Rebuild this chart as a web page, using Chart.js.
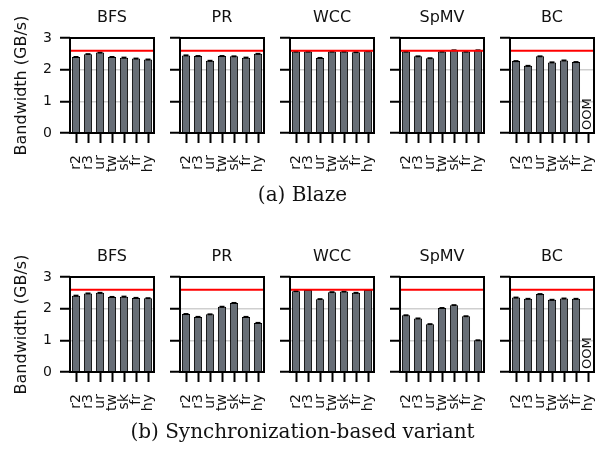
<!DOCTYPE html>
<html><head><meta charset="utf-8">
<script src="https://cdn.jsdelivr.net/npm/chart.js@4.4.0/dist/chart.umd.min.js"></script>
<style>
html,body{margin:0;padding:0;background:#fff;width:597px;height:449px;overflow:hidden;position:relative;}
canvas{position:absolute;}
.cap{position:absolute;left:4px;width:597px;text-align:center;font-family:'DejaVu Serif',serif;font-size:20px;line-height:24px;color:#111;white-space:nowrap;}
</style></head><body>
<canvas id="a0" width="208" height="177"></canvas>
<canvas id="a1" width="208" height="177"></canvas>
<canvas id="a2" width="208" height="177"></canvas>
<canvas id="a3" width="208" height="177"></canvas>
<canvas id="a4" width="208" height="177"></canvas>
<canvas id="b0" width="208" height="177"></canvas>
<canvas id="b1" width="208" height="177"></canvas>
<canvas id="b2" width="208" height="177"></canvas>
<canvas id="b3" width="208" height="177"></canvas>
<canvas id="b4" width="208" height="177"></canvas>
<div class="cap" style="top:182px;">(a) Blaze</div>
<div class="cap" style="top:419px;">(b) Synchronization-based variant</div>
<script>
const categories = ['r2','r3','ur','tw','sk','fr','hy'];
const workloads = ['BFS','PR','WCC','SpMV','BC'];
const yTickValues = [0,1,2,3];
const peakBandwidth = 2.6;

// (a) Blaze
const blazeBFS  = [2.40, 2.49, 2.54, 2.40, 2.38, 2.35, 2.32];
const blazePR   = [2.45, 2.43, 2.28, 2.43, 2.42, 2.38, 2.50];
const blazeWCC  = [2.57, 2.57, 2.37, 2.57, 2.57, 2.55, 2.58];
const blazeSpMV = [2.57, 2.42, 2.36, 2.57, 2.61, 2.57, 2.61];
const blazeBC   = [2.27, 2.12, 2.42, 2.23, 2.29, 2.24, null];

// (b) Synchronization-based variant
const syncBFS  = [2.41, 2.48, 2.50, 2.37, 2.38, 2.34, 2.33];
const syncPR   = [1.83, 1.74, 1.82, 2.06, 2.18, 1.74, 1.55];
const syncWCC  = [2.55, 2.59, 2.30, 2.52, 2.54, 2.50, 2.59];
const syncSpMV = [1.79, 1.69, 1.51, 2.02, 2.11, 1.76, 1.00];
const syncBC   = [2.35, 2.31, 2.46, 2.28, 2.32, 2.31, null];

const rows = [
  {prefix:'a', top:6,   series:[blazeBFS, blazePR, blazeWCC, blazeSpMV, blazeBC]},
  {prefix:'b', top:245, series:[syncBFS, syncPR, syncWCC, syncSpMV, syncBC]}
];
const colLefts = [8, 118, 228, 338, 448];

const framePlugin = {
  id: 'frame',
  afterDatasetsDraw(chart, args, opts) {
    const {ctx, chartArea: a, scales: {x, y}} = chart;
    const vals = chart.data.datasets[0].data;
    const meta = chart.getDatasetMeta(0);
    ctx.save();
    // error caps
    ctx.strokeStyle = '#000'; ctx.lineWidth = 2;
    meta.data.forEach((bar, i) => {
      if (vals[i] == null) return;
      ctx.beginPath(); ctx.moveTo(bar.x - 2.5, bar.y); ctx.lineTo(bar.x + 2.5, bar.y); ctx.stroke();
    });
    // peak bandwidth line
    const py = y.getPixelForValue(peakBandwidth);
    ctx.strokeStyle = '#ff0000'; ctx.lineWidth = 2;
    ctx.beginPath(); ctx.moveTo(a.left, py); ctx.lineTo(a.right, py); ctx.stroke();
    // frame
    ctx.strokeStyle = '#000'; ctx.lineWidth = 2;
    ctx.strokeRect(a.left, a.top, a.right - a.left, a.bottom - a.top);
    // OOM markers
    vals.forEach((v, i) => {
      if (v !== null) return;
      ctx.save();
      ctx.translate(x.getPixelForValue(i), a.bottom - 3);
      ctx.rotate(-Math.PI / 2);
      ctx.font = '13px "DejaVu Sans"';
      ctx.fillStyle = '#111'; ctx.textAlign = 'left'; ctx.textBaseline = 'middle';
      ctx.fillText('OOM', 0, 0);
      ctx.restore();
    });
    // panel title, centred over the plot area
    ctx.font = '16px "DejaVu Sans"';
    ctx.fillStyle = '#111'; ctx.textAlign = 'center'; ctx.textBaseline = 'alphabetic';
    ctx.fillText(opts.title, (a.left + a.right) / 2, a.top - 16);
    ctx.restore();
  }
};

function makeChart(id, title, values, first) {
  return new Chart(document.getElementById(id), {
    type: 'bar',
    data: { labels: categories, datasets: [{
      data: values, backgroundColor: '#676e76', borderColor: '#000', borderWidth: 1,
      barPercentage: 0.68, categoryPercentage: 1.0
    }]},
    options: {
      responsive: false, animation: false, devicePixelRatio: 1,
      layout: { padding: { left: 0, right: 62, top: 32, bottom: 0 } },
      plugins: {
        legend: { display: false }, tooltip: { enabled: false }, title: { display: false },
        frame: { title: title }
      },
      scales: {
        x: {
          grid: { display: true, drawOnChartArea: false, drawTicks: true, tickLength: 10,
                  tickWidth: 2, tickColor: '#000', offset: false },
          border: { display: false },
          ticks: { autoSkip: false, maxRotation: 90, minRotation: 90, padding: 12, color: '#111',
                   font: { family: 'DejaVu Sans', size: 14 } },
          afterFit: s => { s.height = 50; }
        },
        y: {
          min: 0, max: 3,
          afterBuildTicks: s => { s.ticks = yTickValues.map(v => ({ value: v })); },
          grid: {
            color: c => (c.tick && (c.tick.value === 1 || c.tick.value === 2)) ? '#cfcfcf' : 'rgba(0,0,0,0)',
            lineWidth: 1.5, drawTicks: true, tickLength: 10, tickWidth: 2, tickColor: '#000'
          },
          border: { display: false },
          ticks: { padding: 8, color: first ? '#111' : 'rgba(0,0,0,0)',
                   font: { family: 'DejaVu Sans', size: 14 } },
          title: { display: first, text: 'Bandwidth (GB/s)', color: '#111',
                   font: { family: 'DejaVu Sans', size: 16 }, padding: { top: 4, bottom: 4 } },
          afterFit: s => { s.width = 62; }
        }
      }
    },
    plugins: [framePlugin]
  });
}

rows.forEach(row => {
  row.series.forEach((vals, c) => {
    const id = row.prefix + c;
    const el = document.getElementById(id);
    el.style.left = colLefts[c] + 'px';
    el.style.top = row.top + 'px';
    makeChart(id, workloads[c], vals, c === 0);
  });
});
</script>
</body></html>
